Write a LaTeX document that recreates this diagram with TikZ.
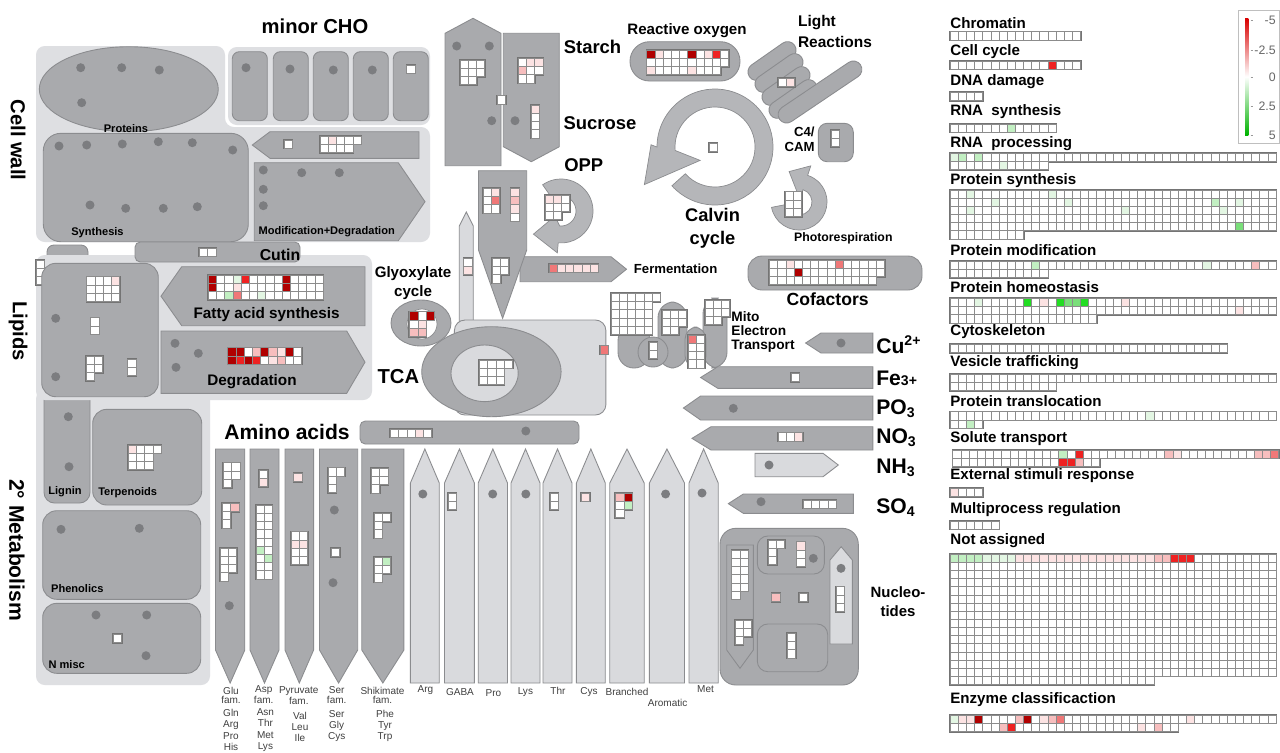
\documentclass[tikz,border=0pt]{standalone}
\usepackage{fontspec}
\setmainfont{Liberation Sans}
\usetikzlibrary{positioning}
\definecolor{panelc}{HTML}{DEDFE2}
\definecolor{boxc}{HTML}{A9AAAD}
\definecolor{edgec}{HTML}{8B8C8F}
\definecolor{lightc}{HTML}{D9DADD}
\definecolor{ringc}{HTML}{B5B6B9}
\definecolor{dotc}{HTML}{7C7D80}
\definecolor{celle}{HTML}{8C8C8C}
\definecolor{rimc}{HTML}{747474}
\definecolor{aac}{HTML}{404040}
\definecolor{dred}{HTML}{B00000}
\definecolor{hred}{HTML}{EE2222}
\definecolor{mpink}{HTML}{F07878}
\definecolor{lpink}{HTML}{F7BEBE}
\definecolor{fpink}{HTML}{FCE3E3}
\definecolor{hgrn}{HTML}{22DD22}
\definecolor{mgrn}{HTML}{7ADF7A}
\definecolor{lgrn}{HTML}{C2EFC2}
\definecolor{fgrn}{HTML}{E3F6E3}
\newcommand\fsz[1]{\fontsize{#1}{#1}\selectfont}
\newcommand\cellsz{8.2}
% grid of white cells: x, y, list of row lengths
\newcommand\cgrid[3]{%
  \foreach \n [count=\rw from 0] in {#3}{%
    \fill[rimc] ({#1-1.2},{#2+\rw*\cellsz-1.2}) rectangle ({#1+\n*\cellsz+1.2},{#2+(\rw+1)*\cellsz+1.2});}
  \foreach \n [count=\rw from 0] in {#3}{%
    \foreach \cl in {1,...,\n}{%
      \filldraw[cell] ({#1+(\cl-1)*\cellsz},{#2+\rw*\cellsz}) rectangle +(\cellsz,\cellsz);}}}
\newcommand\pcell[5]{\filldraw[cell, fill=#5] ({#1+#3*\cellsz},{#2+#4*\cellsz}) rectangle +(\cellsz,\cellsz);}
\newcommand\prow[4]{\foreach \cl/\kk in {#4}{\pcell{#1}{#2}{\cl}{#3}{\kk}}}
\newcommand\dotset[1]{\foreach \xa/\ya in {#1}{\fill[dotc] (\xa,\ya) circle[radius=0.09cm];}}
% pointed shapes
\newcommand\leftpoint[6][box]{\filldraw[#1] (#2,{(#5+#6)/2}) -- (#3,#5) -- (#4,#5) -- (#4,#6) -- (#3,#6) -- cycle;}
\newcommand\rightpoint[6][box]{\filldraw[#1] (#2,#5) -- (#3,#5) -- (#4,{(#5+#6)/2}) -- (#3,#6) -- (#2,#6) -- cycle;}
\newcommand\downpoint[6][box]{\filldraw[#1] (#2,#4) -- (#3,#4) -- (#3,#5) -- ({(#2+#3)/2},#6) -- (#2,#5) -- cycle;}
\newcommand\uppoint[6][box]{\filldraw[#1] ({(#2+#3)/2},#4) -- (#3,#5) -- (#3,#6) -- (#2,#6) -- (#2,#5) -- cycle;}
\tikzset{
  panel/.style={fill=panelc, rounded corners=5pt},
  box/.style={fill=boxc, draw=edgec, line width=0.5pt},
  lbox/.style={fill=lightc, draw=edgec, line width=0.5pt},
  ring/.style={fill=ringc, draw=edgec, line width=0.4pt},
  cell/.style={fill=white, draw=celle, line width=0.3pt},
  pill/.style={box, rounded corners=0.17cm, minimum height=0.34cm, inner sep=0},
  big/.style={font=\bfseries\fsz{11.5}, inner sep=0},
  mid/.style={font=\bfseries\fsz{8.7}, inner sep=0},
  small/.style={font=\bfseries\fsz{6.3}, inner sep=0},
  lab/.style={font=\bfseries\fsz{8.6}, anchor=west, inner sep=0},
  ion/.style={font=\bfseries\fsz{12}, anchor=west, inner sep=0},
  aa/.style={font=\fontsize{5.7}{5.2}\selectfont, text=aac, align=center, inner sep=0},
  aal/.style={font=\fontsize{5.7}{6.4}\selectfont, text=aac, align=center, inner sep=0},
  leg/.style={font=\fsz{7}, text=black!60, anchor=east, inner sep=0}
}
\begin{document}
\begin{tikzpicture}[x=0.02cm,y=-0.02cm]
\useasboundingbox (0,0) rectangle (1280,752);
\fill[white] (0,0) rectangle (1280,752);

% panels
\fill[panel] (36,46) -- (225,46) -- (225,127) -- (430,127) -- (430,242) -- (36,242) -- cycle;
\fill[panel] (228,47) rectangle (430,125);
\fill[panel] (36,390) rectangle (210,685);
\filldraw[box, rounded corners=4pt] (47,245) rectangle (88,262);
\filldraw[box, rounded corners=6pt] (44,385) rectangle (90,503);
\fill[panel] (36,255) rectangle (372,400);

% cell wall and minor CHO
\filldraw[box] (128.8,89.2) ellipse[x radius=1.79cm, y radius=0.85cm];
\dotset{80.7/67.7,121.7/67.7,159.3/70,81.7/102.7}
\node[small] (proteins) at (126,128.3) {Proteins};
\filldraw[box, rounded corners=10pt] (43.3,133.3) rectangle (248.3,241.7);
\dotset{59/146,86.7/145,122.3/144,158.3/141.7,192.3/142.7,232.7/150,90/205,125.7/208.3,163.3/208.3,197.3/206.7}
\node[small] (synth) at (97.5,232.3) {Synthesis};
\foreach \xa in {232.3,273.3,313.3,353.3,393.3}
  \filldraw[box, rounded corners=4pt] (\xa,51.7) rectangle +(35,69);
\dotset{246/67.7,290/69,333.3/70,372.3/70}
\cgrid{406.7}{65}{1}
\leftpoint{252.3}{270}{419}{131.7}{158.3}
\cgrid{284}{140}{1}
\cgrid{320}{136}{5,4}
\prow{320}{136}{0}{1/fpink}
\rightpoint{254.3}{398.3}{425}{162.7}{240.7}
\dotset{263.3/170,301.7/172.7,339.3/172.7,263.3/189.3,263.3/205.7}
\node[small] (moddeg) at (326.7,231.7) {Modification+Degradation};
\node[big] (cho) at (315,26.7) {minor CHO};
\node[big, rotate=-90] (cellwall) at (18,140) {Cell wall};

% lipids
\filldraw[box, rounded corners=3pt] (135,242) rectangle (300,262);
\cgrid{199.5}{248}{2}
\node[font=\bfseries\fsz{9}, inner sep=0] (cutin) at (280,255) {Cutin};
\cgrid{36}{260}{1,1,1}
\filldraw[box, rounded corners=8pt] (41.7,263.3) rectangle (158.3,396.7);
\cgrid{86.7}{276.7}{4,4,4}
\prow{86.7}{276.7}{0}{3/fpink}
\dotset{55.7/318.3,55.7/376.7}
\cgrid{90.7}{317.7}{1,1}
\cgrid{86}{356}{2,2,1}
\cgrid{127.7}{359.3}{1,1}
\leftpoint{161}{181.7}{365}{266.7}{325.7}
\cgrid{208.3}{275}{14,14,14}
\prow{208.3}{275}{0}{0/dred,3/fgrn,4/hred,9/dred}
\prow{208.3}{275}{1}{0/dred,3/fpink,9/dred}
\prow{208.3}{275}{2}{2/lgrn,3/mpink,6/fgrn}
\node[mid] (fas) at (266.7,315) {Fatty acid synthesis};
\rightpoint{161}{346.7}{365}{331}{393.3}
\dotset{175/343.3,198.3/353.3,176/367.3}
\cgrid{227.7}{347.7}{9,9}
\prow{227.7}{347.7}{0}{0/dred,1/dred,3/lpink,4/dred,5/lpink,6/fpink,7/dred}
\prow{227.7}{347.7}{1}{0/dred,1/hred,2/dred,3/hred,5/fpink,6/lpink}
\node[mid] (degr) at (252,381.7) {Degradation};
\node[big, rotate=-90] (lipids) at (18,331) {Lipids};

% secondary metabolism
\dotset{68.3/416.7,69/466.7}
\node[small] (lignin) at (65,491.7) {Lignin};
\filldraw[box, rounded corners=8pt] (92.7,409.3) rectangle (201.7,505);
\cgrid{128.3}{445}{4,3,3}
\prow{128.3}{445}{0}{0/fpink}
\node[small] (terp) at (127.7,492.3) {Terpenoids};
\filldraw[box, rounded corners=8pt] (42.7,510.7) rectangle (200.7,599.3);
\dotset{61/529.3,139.3/528.3}
\node[small] (phen) at (77.3,588.3) {Phenolics};
\filldraw[box, rounded corners=8pt] (42.7,603.3) rectangle (200.7,673.3);
\dotset{96/615,146.7/615,146/655.7}
\cgrid{113.3}{634.3}{1}
\node[small] (nmisc) at (66.7,664.3) {N misc};
\node[big, rotate=-90, font=\bfseries\fsz{12}] (secmet) at (17,550) {2° Metabolism};

% amino acids
\node[big, font=\bfseries\fsz{12}] (amino) at (287,432) {Amino acids};
\filldraw[box, rounded corners=3pt] (360,421) rectangle (579,444);
\cgrid{390.4}{429}{5}
\prow{390.4}{429}{0}{3/fpink}
\dotset{525.8/431}
\foreach \la/\ra in {215.5/244.8,250/279,285/313.6,319.5/357.7,361.8/403.9}
  {\downpoint{\la}{\ra}{449}{650}{683}}
\foreach \la/\ra in {410.4/439.3,444.5/474.4,478.2/507.5,511/540,543/572,576.4/605.3,609.8/644.2,649.4/684.5,689/718.2}
  {\uppoint[lbox]{\la}{\ra}{449}{483}{683}}
\cgrid{223.4}{462.7}{2,2,1}
\cgrid{222.4}{503.3}{2,1,1}
\prow{222.4}{503.3}{0}{1/lpink}
\cgrid{220}{548}{2,2,2,1}
\dotset{229.3/605.7}
\cgrid{259.2}{470}{1,1}
\prow{259.2}{470}{1}{0/fpink}
\cgrid{255.8}{505}{2,2,2,2,2,2,2,2,2}
\prow{255.8}{505}{5}{0/lgrn}
\prow{255.8}{505}{6}{1/lgrn}
\cgrid{293.7}{473.3}{1}
\prow{293.7}{473.3}{0}{0/fpink}
\cgrid{291.3}{531.7}{2,2,2,2}
\prow{291.3}{531.7}{1}{0/fpink,1/fpink}
\cgrid{328}{467.7}{2,1,1}
\dotset{334.3/510,333/582.7}
\cgrid{331.5}{548.3}{1}
\cgrid{371.5}{468.3}{2,2,1}
\cgrid{374}{513.3}{2,1,1}
\cgrid{374}{557.3}{2,2,1}
\prow{374}{557.3}{0}{1/lgrn}
\dotset{422.8/494,492.7/494,525.8/494,665.6/494,702/493}
\cgrid{448}{493}{1,1}
\cgrid{550}{493}{1,1}
\cgrid{581.5}{493}{1}
\prow{581.5}{493}{0}{0/fpink}
\cgrid{615.6}{493}{2,2,1}
\prow{615.6}{493}{0}{0/lpink,1/dred}
\prow{615.6}{493}{1}{1/lgrn}
\node[aa] (glu) at (231,695) {Glu\\fam.};
\node[aal] (glul) at (231,730) {Gln\\Arg\\Pro\\His};
\node[aa] (asp) at (263.7,695) {Asp\\fam.};
\node[aal] (aspl) at (265.4,730) {Asn\\Thr\\Met\\Lys};
\node[aa] (pyr) at (298.8,696) {Pyruvate\\fam.};
\node[aal] (pyrl) at (300,727) {Val\\Leu\\Ile};
\node[aa] (ser) at (336.7,695) {Ser\\fam.};
\node[aal] (serl) at (336.7,726) {Ser\\Gly\\Cys};
\node[aa] (shik) at (382.5,695) {Shikimate\\fam.};
\node[aal] (shikl) at (385,726) {Phe\\Tyr\\Trp};
\node[aa] (arg) at (425.5,690) {Arg};
\node[aa] (gaba) at (460,692) {GABA};
\node[aa] (pro) at (493.4,693) {Pro};
\node[aa] (lys) at (525.4,692) {Lys};
\node[aa] (thr) at (558,691) {Thr};
\node[aa] (cys) at (589,692) {Cys};
\node[aa] (branched) at (627,692) {Branched};
\node[aa] (arom) at (667.6,702.7) {Aromatic};
\node[aa] (met) at (705.5,689) {Met};

% starch, sucrose, glycolysis
\uppoint{445}{501}{18.3}{33.3}{165.7}
\downpoint{503.3}{559.3}{33.3}{146.7}{161.7}
\dotset{456.7/46,489.3/46,491.7/120.7,515/120.7}
\cgrid{460}{60}{3,3,2}
\cgrid{518.3}{58.3}{3,3,2}
\prow{518.3}{58.3}{0}{1/fpink,2/fpink}
\prow{518.3}{58.3}{1}{0/lpink}
\cgrid{531}{105}{1,1,1,1}
\prow{531}{105}{0}{0/fpink}
\cgrid{497.5}{95.7}{1}
\node[big, font=\bfseries\fsz{10.5}] (starch) at (592.5,46.7) {Starch};
\node[big, font=\bfseries\fsz{10.5}] (sucrose) at (600,122.7) {Sucrose};
\uppoint[lbox]{459.3}{473.3}{212}{226}{322}
\cgrid{463.7}{258.3}{1,1}
\prow{463.7}{258.3}{1}{0/fpink}
\rightpoint{520}{611}{626.5}{256.7}{281.7}
\cgrid{549}{264}{6}
\prow{549}{264}{0}{0/mpink,1/fpink,2/fpink,3/fpink,4/fpink,5/fpink}
\node[font=\bfseries\fsz{7.5}, inner sep=0] (ferm) at (675.6,269) {Fermentation};
\downpoint{478.5}{526.7}{170.7}{250}{318.3}
\cgrid{483.3}{188.3}{2,2,2}
\prow{483.3}{188.3}{0}{1/fpink}
\prow{483.3}{188.3}{1}{1/mpink}
\cgrid{510.7}{188.3}{1,1,1,1}
\prow{510.7}{188.3}{0}{0/fpink}
\prow{510.7}{188.3}{1}{0/lpink}
\prow{510.7}{188.3}{2}{0/fpink}
\cgrid{492.2}{258.3}{2,2,1}

% OPP
\begin{scope}[shift={(561,211)},y=0.02cm]
\filldraw[ring] (125:32) arc[start angle=125, end angle=-95, radius=32] -- (-95:42) -- (-140:36) -- (220:8) -- (-95:15) arc[start angle=-95, end angle=125, radius=15] -- cycle;
\end{scope}
\cgrid{545}{195}{3,3,2}
\prow{545}{195}{0}{0/fpink,1/fpink}
\node[big, font=\bfseries\fsz{10.5}] (opp) at (583.8,165) {OPP};

% TCA and glyoxylate
\filldraw[lbox, rounded corners=6pt] (454.4,320) rectangle (605.9,415);
\filldraw[box] (491.4,371.7) ellipse[x radius=1.394cm, y radius=0.9cm];
\filldraw[lbox] (484.6,373.3) ellipse[x radius=0.672cm, y radius=0.566cm];
\cgrid{479.5}{360}{4,3,3}
\cgrid{600}{345.7}{1}
\prow{600}{345.7}{0}{0/mpink}
\node[big] (tca) at (398.4,376.7) {TCA};
\filldraw[box] (421,323) ellipse[x radius=0.6cm, y radius=0.46cm];
\filldraw[fill=white, draw=edgec, line width=0.4pt] (422,324) circle[radius=0.3cm];
\cgrid{409.6}{311.7}{3,2,2}
\prow{409.6}{311.7}{0}{0/dred,2/dred}
\prow{409.6}{311.7}{1}{1/fpink}
\prow{409.6}{311.7}{2}{0/lpink,1/lpink}
\node[mid, align=center, font=\bfseries\fontsize{8.6}{11}\selectfont] (glyox) at (413,283) {Glyoxylate\\cycle};

% reactive oxygen, light reactions, Calvin cycle
\filldraw[box, rounded corners=0.39cm] (630,41.7) rectangle (740,81);
\cgrid{646.7}{50}{10,10,9}
\prow{646.7}{50}{0}{0/dred,1/fpink,5/dred,7/fpink,8/hred}
\prow{646.7}{50}{2}{0/fpink,5/fpink}
\node[font=\bfseries\fsz{8.6}, inner sep=0] (ros) at (687,30.7) {Reactive oxygen};
\node[pill, minimum width=1.1cm, rotate=35] (lr1) at (772,61) {};
\node[pill, minimum width=1.1cm, rotate=35] (lr2) at (779,73) {};
\node[pill, minimum width=1.1cm, rotate=35] (lr3) at (786,86) {};
\node[pill, minimum width=1.1cm, rotate=35] (lr4) at (793,99) {};
\node[pill, minimum width=1.95cm, rotate=34] (lr5) at (820,92) {};
\cgrid{778.3}{78.3}{2}
\prow{778.3}{78.3}{0}{1/fpink}
\node[lab, font=\bfseries\fsz{8.8}] (light) at (797.7,22.7) {Light};
\node[lab, font=\bfseries\fsz{8.8}] (react) at (797.7,41.7) {Reactions};
\begin{scope}[shift={(715,147)},y=0.02cm]
\filldraw[ring] (-138:58) arc[start angle=-138, end angle=180, radius=58] -- (178:64) -- (208:80) -- (222:20) -- (185:40) arc[start angle=185, end angle=-138, radius=40] -- cycle;
\end{scope}
\cgrid{709}{143.3}{1}
\node[big, align=center, font=\bfseries\fontsize{10.4}{13}\selectfont] (calvin) at (712.5,228) {Calvin\\cycle};
\filldraw[box, rounded corners=5pt] (818.3,123.3) rectangle (853.3,161.7);
\cgrid{831}{130}{1,1}
\node[font=\bfseries\fontsize{7.5}{8.5}\selectfont, align=right, anchor=east, inner sep=0] (c4) at (815,139) {C4/\\CAM};
\begin{scope}[shift={(799,202)},y=0.02cm]
\filldraw[ring] (-169:28) arc[start angle=-169, end angle=72, radius=28] -- (72:38) -- (108:32) -- (72:3) -- (72:13) arc[start angle=72, end angle=-169, radius=13] -- cycle;
\end{scope}
\cgrid{785}{191.7}{2,2,2}
\node[font=\bfseries\fsz{7}, inner sep=0] (photo) at (843.3,238.3) {Photorespiration};

% cofactors, mito electron transport
\filldraw[box, rounded corners=8pt] (748,256) rectangle (922,290);
\cgrid{769.5}{260}{14,14,13}
\prow{769.5}{260}{0}{2/fpink,8/mpink}
\prow{769.5}{260}{1}{3/dred}
\node[big, font=\bfseries\fsz{10}] (cofac) at (827.6,299.3) {Cofactors};
\filldraw[box, rounded corners=9pt] (618,325) rectangle (650,368);
\filldraw[box, rounded corners=9pt] (658,302) rectangle (687,368);
\filldraw[box, rounded corners=9pt] (703,298) rectangle (727,368);
\filldraw[box, rounded corners=7pt] (685,327) rectangle (706,368);
\filldraw[box] (653,352) circle[radius=0.3cm];
\cgrid{611}{293.3}{6,5,5,5,5}
\cgrid{662}{310}{3,3,2}
\cgrid{688}{335}{2,2,2,2}
\prow{688}{335}{0}{0/mpink}
\cgrid{705}{300}{3,3,2}
\cgrid{649}{342}{1,1}
\node[font=\bfseries\fontsize{7.8}{8.2}\selectfont, align=left, anchor=west, inner sep=0] (mito) at (731,332) {Mito\\Electron\\Transport};

% ions
\leftpoint{805.6}{821}{872.8}{333}{353}
\dotset{841/343}
\node[ion] (cu) at (876,345) {Cu\textsuperscript{2+}};
\leftpoint{700.6}{717.8}{872.8}{366.7}{388.3}
\cgrid{790.8}{373.3}{1}
\node[ion] (fe) at (876,378) {Fe{\fsz{8}3+}};
\leftpoint{683.4}{700.6}{872.8}{396}{420}
\dotset{733.3/408.3}
\node[ion] (po) at (876,409) {PO\textsubscript{3}};
\leftpoint{692}{711}{872.8}{426.7}{450}
\cgrid{778}{432.7}{3}
\prow{778}{432.7}{0}{2/fpink}
\node[ion] (no) at (876,438) {NO\textsubscript{3}};
\rightpoint[lbox]{755}{823}{838.3}{453.3}{476.7}
\dotset{769/465}
\node[ion] (nh) at (876,468) {NH\textsubscript{3}};
\leftpoint{728.3}{743.3}{853.3}{494}{513.3}
\dotset{761/501.7}
\cgrid{803.3}{500}{4}
\node[ion] (so) at (876,508) {SO\textsubscript{4}};

% nucleotides
\filldraw[box, rounded corners=9pt] (720,528.3) rectangle (858.3,685);
\downpoint{726.7}{753.3}{545}{650}{668.3}
\filldraw[box, rounded corners=6pt] (757.3,536) rectangle (824.3,574);
\filldraw[box, rounded corners=6pt] (757.3,624) rectangle (827.7,671.7);
\uppoint[lbox]{830}{852.3}{546.7}{560}{644}
\cgrid{731.7}{550}{2,2,2,2,2,1}
\cgrid{735}{620}{2,2,1}
\cgrid{768.3}{540}{2,1,1}
\cgrid{796.7}{541.7}{1,1,1}
\prow{796.7}{541.7}{0}{0/fpink}
\dotset{813.3/558.3,841/568.3}
\cgrid{771.7}{593.3}{1}
\prow{771.7}{593.3}{0}{0/lpink}
\cgrid{799.3}{593.3}{1}
\cgrid{787.3}{633.3}{1,1,1}
\cgrid{836}{586.7}{1,1,1}
\node[font=\bfseries\fontsize{8.5}{10.8}\selectfont, align=center, inner sep=0] (nucl) at (898,602) {Nucleo-\\tides};

% right panel
\begin{scope}
\renewcommand\cellsz{8.15}
\node[lab] (chrom) at (950,22.7) {Chromatin};
\cgrid{950}{31.7}{16}
\node[lab] (ccyc) at (950,51.7) {Cell cycle};
\cgrid{950}{61}{16}
\prow{950}{61}{0}{12/hred}
\node[lab] (dna) at (950,81.7) {DNA damage};
\cgrid{950}{92.5}{4}
\node[lab] (rnas) at (950,111.7) {RNA\ \ synthesis};
\cgrid{950}{124}{13}
\prow{950}{124}{0}{7/lgrn}
\node[lab] (rnap) at (950,144) {RNA\ \ processing};
\cgrid{950}{153.3}{40,12}
\prow{950}{153.3}{0}{0/fgrn,1/lgrn,3/lgrn}
\prow{950}{153.3}{1}{6/fgrn}
\node[lab] (psyn) at (950,181) {Protein synthesis};
\cgrid{950}{190}{40,40,40,40,40,9}
\prow{950}{190}{0}{2/fgrn,12/fgrn}
\prow{950}{190}{1}{5/fgrn,14/fgrn,32/lgrn,35/fgrn}
\prow{950}{190}{2}{2/fgrn,21/fgrn,33/fgrn}
\prow{950}{190}{4}{35/mgrn}
\node[lab] (pmod) at (950,250) {Protein modification};
\cgrid{950}{261}{40,12}
\prow{950}{261}{0}{10/lgrn,31/fgrn,37/lpink}
\node[lab] (phom) at (950,287.3) {Protein homeostasis};
\cgrid{950}{298.3}{40,40,18}
\prow{950}{298.3}{0}{3/fgrn,9/hgrn,11/fpink,13/hgrn,14/mgrn,15/mgrn,16/hgrn,21/fpink}
\prow{950}{298.3}{1}{35/fpink}
\node[lab] (cyto) at (950,331.7) {Cytoskeleton};
\cgrid{950}{344.3}{34}
\node[lab] (vesi) at (950,362.7) {Vesicle trafficking};
\cgrid{950}{374}{40,13}
\node[lab] (ptrl) at (950,400.7) {Protein translocation};
\cgrid{950}{411.7}{40,4}
\prow{950}{411.7}{0}{24/fgrn}
\prow{950}{411.7}{1}{2/lgrn}
\node[lab] (solu) at (950,438.3) {Solute transport};
\cgrid{952.7}{450}{40,18}
\prow{952.7}{450}{0}{13/lgrn,15/hred,26/lpink,27/fpink,37/lpink,38/lpink,39/mpink}
\prow{952.7}{450}{1}{13/hred,14/hred,15/lpink}
\node[lab] (exts) at (950,476) {External stimuli response};
\cgrid{950}{488.3}{4}
\prow{950}{488.3}{0}{0/fpink}
\node[lab] (mult) at (950,509.3) {Multiprocess regulation};
\cgrid{950}{521}{6}
\node[lab] (nota) at (950,541) {Not assigned};
\cgrid{950}{554}{40,40,40,40,40,40,40,40,40,40,40,40,40,40,40,25}
\foreach \i in {0,...,3}{\pcell{950}{554}{\i}{0}{lgrn}}
\foreach \i in {4,...,7}{\pcell{950}{554}{\i}{0}{fgrn}}
\foreach \i in {8,...,24}{\pcell{950}{554}{\i}{0}{fpink}}
\prow{950}{554}{0}{25/lpink,26/lpink,27/hred,28/hred,29/hred}
\node[lab] (enzy) at (950,700) {Enzyme classificaction};
\cgrid{950}{715}{40,28}
\prow{950}{715}{0}{0/fgrn,1/fpink,2/fpink,3/dred,8/lpink,9/dred,11/fpink,12/lpink,13/mpink,29/fpink}
\prow{950}{715}{1}{6/lpink,7/hred,23/fpink,25/lpink}
\end{scope}

% legend
\filldraw[fill=white, draw=black!25] (1238.3,10) rectangle (1279.5,143.3);
\shade[top color=red!85!black, bottom color=green!70!black, middle color=white] (1245,18.3) rectangle (1248.3,135);
\foreach \yy in {20.7,50.7,77.3,106.7,135} \draw[black!40] (1250.5,\yy) -- (1252.5,\yy);
\node[leg] (l1) at (1276,20.7) {-5};
\node[leg] (l2) at (1276,50.7) {-2.5};
\node[leg] (l3) at (1276,77.3) {0};
\node[leg] (l4) at (1276,106.7) {2.5};
\node[leg] (l5) at (1276,135) {5};
\end{tikzpicture}
\end{document}
